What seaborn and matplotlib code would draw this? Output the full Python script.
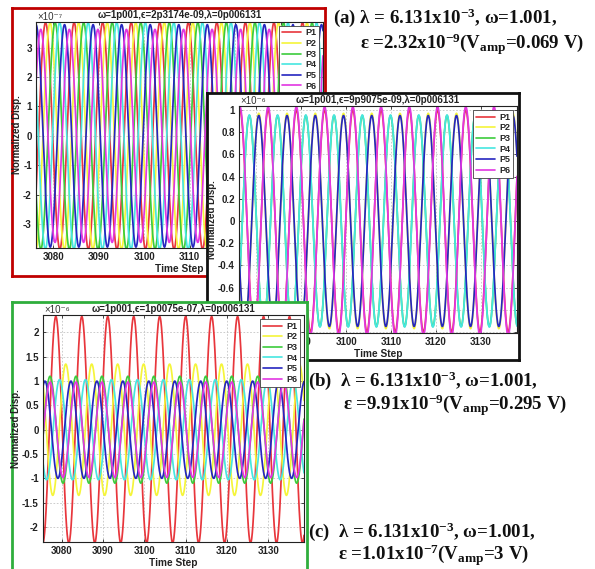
import numpy as np
import pandas as pd
import matplotlib
matplotlib.use("Agg")
import matplotlib.pyplot as plt
import seaborn as sns
from matplotlib.lines import Line2D

sns.set_style("white")
plt.rcParams["font.family"] = ["Liberation Sans", "DejaVu Sans"]
plt.rcParams["axes.unicode_minus"] = False
plt.rcParams["mathtext.fontset"] = "custom"
plt.rcParams["mathtext.rm"] = "Liberation Serif:bold"
plt.rcParams["mathtext.it"] = "Liberation Serif:bold:italic"
plt.rcParams["mathtext.bf"] = "Liberation Serif:bold"

W, H = 595, 569

# ---------------- data ----------------
series = ["P1", "P2", "P3", "P4", "P5", "P6"]
colors = ["#e8363c", "#f5f53a", "#3ccc3c", "#46e6e0", "#2626c0", "#e236e2"]
omega = 1.001                      # rad per time step
xticks = [3080, 3090, 3100, 3110, 3120, 3130]
time_steps = np.arange(3075.0, 3140.01, 0.05)

# panel (a)  values in units of 1e-7
title_a = "ω=1p001,ϵ=2p3174e-09,λ=0p006131"
exp_a = "×10⁻⁷"
amp_a = [3.85, 3.85, 3.85, 3.85, 3.78, 3.62]
peak_a = [3078.3, 3079.3, 3080.4, 3081.4, 3076.2, 3077.25]
yticks_a = [-3, -2, -1, 0, 1, 2, 3]
ylim_a = (-3.82, 3.88)
xlim_a = (3076.2, 3139.3)

# panel (b)  values in units of 1e-6
title_b = "ω=1p001,ϵ=9p9075e-09,λ=0p006131"
exp_b = "×10⁻⁶"
amp_b = [1.00, 0.97, 0.95, 0.955, 0.95, 1.03]
peak_b = [3076.4, 3080.6, 3078.5, 3078.5, 3080.6, 3076.4]
yticks_b = [-1, -0.8, -0.6, -0.4, -0.2, 0, 0.2, 0.4, 0.6, 0.8, 1]
ylim_b = (-1.009, 1.036)
xlim_b = (3076.2, 3138.0)

# panel (c)  values in units of 1e-6
title_c = "ω=1p001,ϵ=1p0075e-07,λ=0p006131"
exp_c = "×10⁻⁶"
amp_c = [2.33, 1.35, 1.10, 1.03, 1.00, 0.98]
peak_c = [3078.6, 3081.0, 3077.2, 3079.5, 3082.25, 3077.2]
yticks_c = [-2, -1.5, -1, -0.5, 0, 0.5, 1, 1.5, 2]
ylim_c = (-2.31, 2.36)
xlim_c = (3075.5, 3138.6)

# side captions
cap_a1 = "(a) λ = 6.131x10$^{-3}$, ω=1.001,"
cap_a2 = "ε =2.32x10$^{-9}$(V$_{\\rm amp}$=0.069 V)"
cap_b1 = "(b)  λ = 6.131x10$^{-3}$, ω=1.001,"
cap_b2 = "ε =9.91x10$^{-9}$(V$_{\\rm amp}$=0.295 V)"
cap_c1 = "(c)  λ = 6.131x10$^{-3}$, ω=1.001,"
cap_c2 = "ε =1.01x10$^{-7}$(V$_{\\rm amp}$=3 V)"


def fig_rect(left, top, right, bottom):
    return [left / W, 1 - bottom / H, (right - left) / W, (bottom - top) / H]


def build_frame(amps, peaks):
    rows = []
    for name, a, p in zip(series, amps, peaks):
        vals = a * np.cos(omega * (time_steps - p))
        rows.append(pd.DataFrame({"t": time_steps, "v": vals, "series": name}))
    return pd.concat(rows, ignore_index=True)


fig = plt.figure(figsize=(W / 100, H / 100), dpi=100)
fig.patch.set_facecolor("white")


def panel(frame_box, frame_color, ax_box, amps, peaks, title, exp, yticks, ylim, xlim, z):
    fr = fig.add_axes(fig_rect(*frame_box), zorder=z)
    fr.set_facecolor("white")
    fr.set_xticks([])
    fr.set_yticks([])
    for s in fr.spines.values():
        s.set_color(frame_color)
        s.set_linewidth(2.0)

    ax = fig.add_axes(fig_rect(*ax_box), zorder=z + 1)
    ax.set_facecolor("white")
    df = build_frame(amps, peaks)
    sns.lineplot(data=df, x="t", y="v", hue="series",
                 palette=dict(zip(series, colors)), ax=ax,
                 legend=False, linewidth=1.25, estimator=None)
    ax.set_xlim(*xlim)
    ax.set_ylim(*ylim)
    ax.set_xticks(xticks)
    ax.set_xticklabels([str(x) for x in xticks], fontweight="bold", fontsize=7)
    ax.set_yticks(yticks)
    ax.set_yticklabels([f"{y:g}" for y in yticks], fontweight="bold", fontsize=7)
    ax.tick_params(direction="in", length=2.5, width=0.6, pad=3,
                   bottom=True, left=True, top=True, right=True,
                   labelcolor="#222222")
    ax.grid(True, color="#c4c4c4", linestyle=(0, (2, 2)), linewidth=0.6)
    ax.set_axisbelow(True)
    for s in ax.spines.values():
        s.set_color("#222222")
        s.set_linewidth(0.8)
    ax.set_xlabel("Time Step", fontsize=7.3, fontweight="bold", labelpad=1,
                  color="#222222")
    ax.set_ylabel("Normalized Disp.", fontsize=7, fontweight="bold", labelpad=1,
                  color="#222222")
    ax.set_title(title, fontsize=7, fontweight="bold", pad=2.5, color="#222222")
    ax.text(0.005, 1.0, exp, transform=ax.transAxes, ha="left", va="bottom",
            fontsize=7, color="#333333")
    handles = [Line2D([0], [0], color=c, lw=1.2) for c in colors]
    leg = ax.legend(handles, series, loc="upper right",
                    prop={"weight": "bold", "size": 6.5}, frameon=True,
                    fancybox=False, edgecolor="#404040", framealpha=1,
                    borderpad=0.3, labelspacing=0.18, handlelength=2.2,
                    handletextpad=0.4, borderaxespad=0.45)
    leg.get_frame().set_linewidth(0.6)
    return ax


panel((12, 8, 325, 276), "#c00000", (36, 21.7, 323, 248.3),
      amp_a, peak_a, title_a, exp_a, yticks_a, ylim_a, xlim_a, 1)
panel((207, 93, 519, 360), "#111111", (239, 106, 517, 333),
      amp_b, peak_b, title_b, exp_b, yticks_b, ylim_b, xlim_b, 3)
panel((12, 302, 307, 575), "#2fae3c", (43, 315, 304, 542),
      amp_c, peak_c, title_c, exp_c, yticks_c, ylim_c, xlim_c, 5)

cap_kw = dict(fontsize=13.6, family="Liberation Serif", fontweight="bold",
              ha="left", va="center", color="#111111")
fig.text(333 / W, 1 - 18 / H, cap_a1, **cap_kw)
fig.text(360 / W, 1 - 44 / H, cap_a2, **cap_kw)
fig.text(308 / W, 1 - 381 / H, cap_b1, **cap_kw)
fig.text(343 / W, 1 - 405 / H, cap_b2, **cap_kw)
fig.text(308 / W, 1 - 532 / H, cap_c1, **cap_kw)
fig.text(338 / W, 1 - 555 / H, cap_c2, **cap_kw)

fig.savefig("out.png", dpi=100, facecolor="white")
